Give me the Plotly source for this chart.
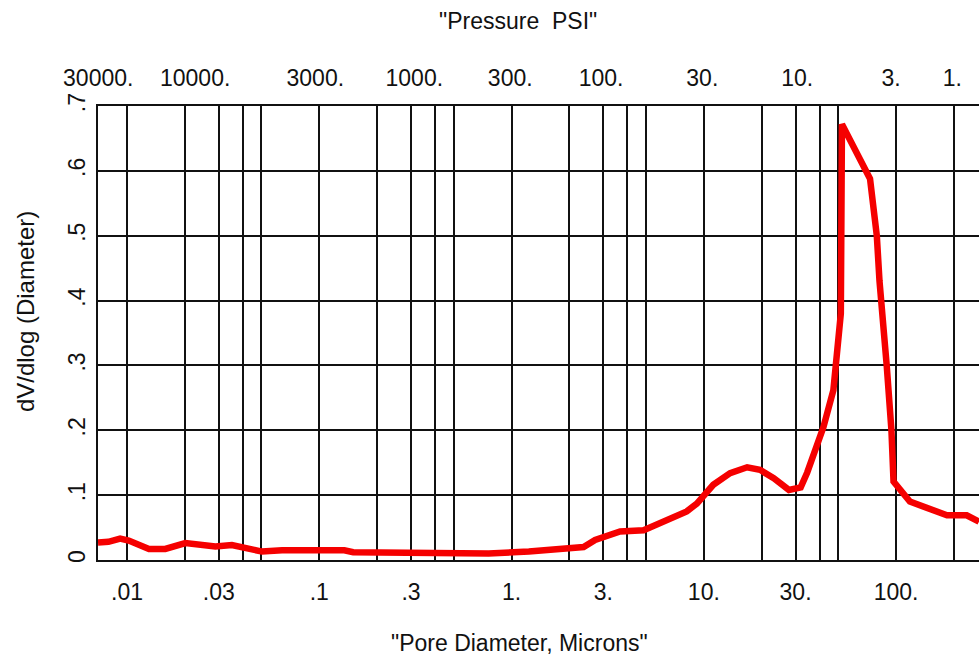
import math
import plotly.graph_objects as go

# ---- data ----
pore_diameter_um = [0.00706, 0.0080, 0.0092, 0.0102, 0.0130, 0.0158, 0.0201, 0.0255, 0.0288,
                    0.0351, 0.0396, 0.0503, 0.064, 0.099, 0.135, 0.15, 0.372, 0.509, 0.76, 1.23,
                    1.69, 2.37, 2.72, 3.67, 4.86, 8.15, 9.2, 11.2, 13.7, 16.8, 19.6, 23.1, 27.7,
                    31.9, 34.5, 37.2, 41.9, 47.2, 50.1, 51.6, 52.3, 73.2, 79.4, 82.0, 89.4, 94.6,
                    97.0, 118.0, 184.0, 233.0, 270.0]
dv_dlog = [0.027, 0.028, 0.033, 0.030, 0.017, 0.017, 0.026, 0.023, 0.021,
           0.023, 0.020, 0.013, 0.015, 0.015, 0.015, 0.012, 0.011, 0.009, 0.010, 0.013,
           0.017, 0.020, 0.031, 0.044, 0.046, 0.075, 0.087, 0.116, 0.134, 0.143, 0.139, 0.126,
           0.108, 0.112, 0.135, 0.164, 0.205, 0.262, 0.329, 0.38, 0.672, 0.588, 0.50, 0.43, 0.30,
           0.20, 0.121, 0.090, 0.069, 0.069, 0.059]

grid_diameters = [0.01, 0.02, 0.03, 0.04, 0.05, 0.1, 0.2, 0.3, 0.4, 0.5, 1, 2, 3, 4, 5,
                  10, 20, 30, 40, 50, 100, 200]
diam_tick_vals = [0.01, 0.03, 0.1, 0.3, 1, 3, 10, 30, 100]
diam_tick_text = [".01", ".03", ".1", ".3", "1.", "3.", "10.", "30.", "100."]

psi_tick_text = ["30000.", "10000.", "3000.", "1000.", "300.", "100.", "30.", "10.", "3.", "1."]
psi_tick_at_diameter = [0.00708, 0.0226, 0.0953, 0.312, 0.984, 2.92, 9.82, 30.6, 94.2, 196.0]

y_tick_vals = [0, 0.1, 0.2, 0.3, 0.4, 0.5, 0.6, 0.7]
y_tick_text = ["0", ".1", ".2", ".3", ".4", ".5", ".6", ".7"]

x_min, x_max = 0.00706, 270.0
FONT = "Liberation Sans, Arial, sans-serif"
INK = "#111111"

fig = go.Figure()
fig.add_trace(go.Scatter(x=pore_diameter_um, y=dv_dlog, mode="lines",
                         line=dict(color="#f50000", width=6.5), xaxis="x", yaxis="y",
                         hoverinfo="skip"))
# invisible trace to activate top axis
fig.add_trace(go.Scatter(x=[x_min, x_max], y=[0, 0], mode="markers",
                         marker=dict(opacity=0), xaxis="x2", yaxis="y",
                         hoverinfo="skip", showlegend=False))

xr = [math.log10(x_min), math.log10(x_max)]
fig.update_layout(
    width=979, height=659,
    margin=dict(l=98, r=0, t=106, b=99),
    paper_bgcolor="white", plot_bgcolor="white",
    showlegend=False,
    font=dict(family=FONT, size=23, color=INK),
    xaxis=dict(type="log", range=xr, tickmode="array", tickvals=diam_tick_vals,
               ticktext=diam_tick_text, tickangle=0, showgrid=False, ticks="",
               ticklabelstandoff=10,
               minor=dict(tickmode="array", tickvals=grid_diameters, showgrid=True,
                          gridcolor=INK, gridwidth=2, ticks=""),
               showline=True, linecolor=INK, linewidth=2, mirror=True, zeroline=False,
               tickfont=dict(size=23)),
    xaxis2=dict(type="log", range=xr, overlaying="x", side="top", tickmode="array",
                tickvals=psi_tick_at_diameter, ticktext=psi_tick_text, tickangle=0,
                showgrid=False, ticks="", ticklabelstandoff=14, showline=False,
                zeroline=False, tickfont=dict(size=23)),
    yaxis=dict(range=[0, 0.7], tickmode="array", tickvals=y_tick_vals, ticktext=y_tick_text,
               tickangle=-90, showgrid=True, gridcolor=INK, gridwidth=2, ticks="",
               ticklabelstandoff=2,
               showline=True, linecolor=INK, linewidth=2, zeroline=False,
               tickfont=dict(size=23)),
    annotations=[
        dict(text='"Pressure  PSI"', xref="paper", yref="paper", x=0.477, y=1,
             xanchor="center", yanchor="middle", yshift=85, showarrow=False,
             font=dict(size=23)),
        dict(text='"Pore Diameter, Microns"', xref="paper", yref="paper", x=0.478, y=0,
             xanchor="center", yanchor="middle", yshift=-83, showarrow=False,
             font=dict(size=23)),
        dict(text="dV/dlog (Diameter)", xref="paper", yref="paper", x=0, y=0.546,
             xanchor="center", yanchor="middle", xshift=-73, textangle=-90,
             showarrow=False, font=dict(size=24)),
    ],
)

fig.write_html("out.html")
